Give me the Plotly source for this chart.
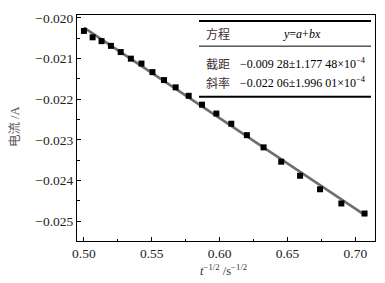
import plotly.graph_objects as go

# ---- data ----
x_vals = [0.5000, 0.5064, 0.5130, 0.5199, 0.5271, 0.5346, 0.5424, 0.5505,
          0.5590, 0.5676, 0.5772, 0.5870, 0.5976, 0.6086, 0.6201, 0.6324,
          0.6454, 0.6593, 0.6740, 0.6897, 0.7068]
y_vals = [-0.020322, -0.020479, -0.020573, -0.020689, -0.020842, -0.021004,
          -0.021125, -0.021335, -0.021531, -0.021710, -0.021918, -0.022136,
          -0.022354, -0.022605, -0.022886, -0.023186, -0.023539, -0.023885,
          -0.024217, -0.024567, -0.024814]
fit_x = [0.5000, 0.7074]
fit_y = [-0.02024, -0.02486]

x_ticks = [0.50, 0.55, 0.60, 0.65, 0.70]
y_ticks = [-0.020, -0.021, -0.022, -0.023, -0.024, -0.025]

table_labels = ["方程", "截距", "斜率"]
table_values = ["<i>y</i>=<i>a</i>+<i>bx</i>",
                "−0.009 28±1.177 48×10<sup>−4</sup>",
                "−0.022 06±1.996 01×10<sup>−4</sup>"]

x_title = "<i>t</i><sup>−1/2</sup> /s<sup>−1/2</sup>"
y_title = "电流 /A"

# ---- layout geometry (pixels in the final window) ----
OFF = 8  # page body margin
W, H = 385, 283
L, R, T, B = 77, 375, 11, 241


def px(xp):
    return (xp - L) / (R - L)


def py(yp):
    return (B - yp) / (B - T)


serif = "Liberation Serif, Noto Sans CJK SC"

fig = go.Figure()
fig.add_trace(go.Scatter(x=fit_x, y=fit_y, mode="lines",
                         line=dict(color="#6e6e6e", width=2.6),
                         showlegend=False, hoverinfo="skip"))
fig.add_trace(go.Scatter(x=x_vals, y=y_vals, mode="markers",
                         marker=dict(symbol="square", size=6, color="black"),
                         showlegend=False))

shapes = [
    dict(type="line", xref="paper", yref="paper", x0=px(199), x1=px(371),
         y0=py(17), y1=py(17), line=dict(color="black", width=2)),
    dict(type="line", xref="paper", yref="paper", x0=px(199), x1=px(371),
         y0=py(42.7), y1=py(42.7), line=dict(color="black", width=1)),
    dict(type="line", xref="paper", yref="paper", x0=px(199), x1=px(371),
         y0=py(94.3), y1=py(94.3), line=dict(color="black", width=2)),
]

annotations = []
row_y = [30, 60.5, 79.5]
for i, (lab, val) in enumerate(zip(table_labels, table_values)):
    annotations.append(dict(xref="paper", yref="paper", x=px(204), y=py(row_y[i]),
                            xanchor="left", yanchor="middle", showarrow=False,
                            text=lab, font=dict(family="Noto Sans CJK SC", size=12, color="#3a3030")))
    if i == 0:
        annotations.append(dict(xref="paper", yref="paper", x=px(302), y=py(row_y[i]),
                                xanchor="center", yanchor="middle", showarrow=False,
                                text=val, font=dict(family=serif, size=12, color="black")))
    else:
        annotations.append(dict(xref="paper", yref="paper", x=px(238), y=py(row_y[i]),
                                xanchor="left", yanchor="middle", showarrow=False,
                                text=val, font=dict(family=serif, size=12, color="black")))

annotations.append(dict(xref="paper", yref="paper", x=px(223), y=py(271),
                        xanchor="center", yanchor="middle", showarrow=False,
                        text=x_title, font=dict(family=serif, size=12.5, color="#333")))
annotations.append(dict(xref="paper", yref="paper", x=px(15), y=py(125),
                        xanchor="center", yanchor="middle", showarrow=False, textangle=-90,
                        text=y_title, font=dict(family=serif, size=12.5, color="#555")))

fig.update_layout(
    width=W - OFF, height=H - OFF,
    margin=dict(l=L - OFF, r=W - R, t=T - OFF, b=H - B, pad=0),
    paper_bgcolor="white", plot_bgcolor="white",
    shapes=shapes, annotations=annotations,
    xaxis=dict(range=[0.4949, 0.7145], tickvals=x_ticks, tickformat=".2f",
               ticks="inside", ticklen=4, tickcolor="black", showgrid=False,
               zeroline=False, showline=True, linecolor="black", linewidth=1,
               mirror=True, ticklabeloverflow="allow",
               minor=dict(ticks="inside", ticklen=2.5, dtick=0.025, tick0=0.5, tickcolor="black"),
               tickfont=dict(family=serif, size=13.5, color="#222")),
    yaxis=dict(range=[-0.02549, -0.01993], tickvals=y_ticks, tickformat=".3f",
               ticks="inside", ticklen=4, tickcolor="black", showgrid=False,
               zeroline=False, showline=True, linecolor="black", linewidth=1,
               mirror=True, ticklabeloverflow="allow",
               minor=dict(ticks="inside", ticklen=2.5, dtick=0.0005, tick0=-0.02, tickcolor="black"),
               tickfont=dict(family=serif, size=13.5, color="#222")),
)

fig.write_html("out.html")
